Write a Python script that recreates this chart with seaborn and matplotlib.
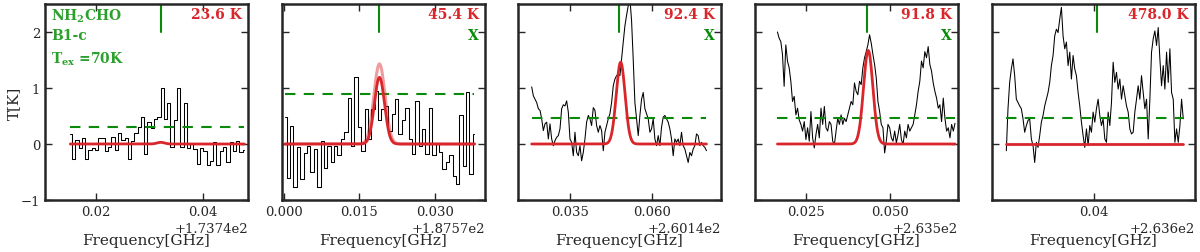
import numpy as np
import matplotlib
matplotlib.use('Agg')
import matplotlib.pyplot as plt
from matplotlib.ticker import FixedLocator
import seaborn as sns

sns.set_style('ticks')
plt.rcParams['font.family'] = ['DejaVu Serif']
plt.rcParams['mathtext.fontset'] = 'dejavuserif'

# frequency offsets of each panel [GHz]
offsets = [173.74, 187.57, 260.14, 263.5, 263.6]
temps = ['23.6 K', '45.4 K', '92.4 K', '91.8 K', '478.0 K']
marks = ['', 'X', 'X', 'X', '']
line_pos = [0.0321, 0.0190, 0.0500, 0.0430, 0.0406]
rms3 = [0.30, 0.89, 0.46, 0.46, 0.46]
x_ticks = [[0.02, 0.04], [0.0, 0.015, 0.030], [0.035, 0.060], [0.025, 0.050], [0.04]]
x_lims = [(0.0106, 0.0483), (-0.0003, 0.0399), (0.0192, 0.0809), (0.0097, 0.0703), (0.022, 0.058)]

# channel grid of each spectrum
chan_start = [0.0153, 0.0003, 0.02336, 0.0164, 0.02454]
chan_width = [0.00061, 0.00067, 0.000506, 0.0005, 0.000296]

# gaussian model (LTE fit) per panel
fit_amp = [0.03, 1.19, 1.46, 1.67, 0.0]
fit_center = [0.0321, 0.0190, 0.0504, 0.0435, 0.0406]
fit_sigma = [0.0007, 0.0010, 0.00135, 0.0014, 0.001]
# second (lighter) model shown in panel 2
alt_amp = 1.43
alt_sigma = 0.0011

spec1 = [0.17, -0.26, 0.07, -0.07, 0.10, -0.26, -0.10, -0.08, -0.10, 0.10,
         0.10, -0.12, -0.05, 0.12, -0.10, 0.19, 0.08, 0.10, -0.26, 0.06,
         0.20, 0.30, 0.48, -0.18, 0.40, 0.28, 0.45, 0.48, 1.00, 0.45,
         0.74, -0.06, 0.42, 1.00, -0.06, 0.74, -0.08, 0.00, -0.09, -0.36,
         -0.08, -0.12, -0.38, -0.30, 0.03, -0.38, -0.12, -0.05, -0.33, 0.03,
         -0.12, 0.05, -0.15, -0.10]

spec2 = [0.49, -0.60, 0.32, -0.77, -0.06, -0.62, -0.16, -0.03, -0.50, -0.09,
         -0.77, 0.06, -0.42, -0.03, -0.33, -0.03, -0.20, 0.09, 0.22, 0.83,
         -0.03, 1.19, 0.30, -0.12, 0.62, 0.09, 0.62, 0.95, 0.42, 0.62,
         0.68, 0.24, 0.54, 0.80, 0.18, 0.42, 0.65, 0.09, -0.18, 0.77,
         -0.03, 0.27, -0.18, 0.65, -0.20, 0.00, -0.15, -0.45, -0.33, -0.20,
         -0.57, -0.71, 0.51, -0.39, 0.92, -0.54, 0.18]

spec3 = [1.02, 0.86, 0.80, 0.74, 0.63, 0.60, 0.45, 0.24, 0.36, 0.39,
         0.09, 0.36, 0.09, -0.03, 0.06, 0.12, 0.15, 0.27, 0.63, 0.70,
         0.68, 0.77, 0.57, 0.09, 0.03, -0.21, 0.21, -0.15, -0.21, -0.03,
         -0.30, -0.15, 0.09, 0.39, 0.51, 0.45, 0.33, 0.65, 0.60, 0.33,
         0.21, 0.33, 0.24, -0.12, 0.21, 0.33, 0.45, 0.54, 0.74, 1.04,
         1.16, 1.22, 1.25, 1.22, 1.52, 1.82, 2.11, 2.30, 2.47, 2.60,
         2.20, 1.50, 0.74, 0.45, 0.15, 0.51, 0.80, 0.92, 0.63, 0.54,
         0.45, 0.21, 0.27, 0.45, 0.09, -0.03, 0.15, -0.03, 0.30, 0.48,
         0.51, 0.45, 0.39, 0.27, 0.09, -0.21, 0.09, 0.03, 0.09, -0.03,
         0.21, -0.03, -0.09, -0.21, -0.33, -0.15, -0.21, -0.09, -0.03, 0.18,
         0.15, -0.03, 0.03, -0.03, -0.06, -0.12]

spec4 = [2.00, 1.89, 1.83, 1.60, 1.03, 1.77, 1.48, 1.36, 1.12, 0.76,
         0.85, 0.52, 0.64, 0.43, 0.35, 0.23, 0.40, 0.08, 0.29, 0.05,
         0.58, 0.11, -0.07, 0.17, 0.35, 0.11, 0.64, 0.35, 0.67, 0.29,
         0.23, 0.40, 0.35, 0.05, -0.01, 0.23, 0.46, 0.35, 0.52, 0.35,
         0.46, 0.40, 0.52, 0.64, 0.76, 0.70, 1.09, 0.94, 0.88, 1.12,
         1.06, 1.36, 1.54, 1.65, 1.77, 1.95, 1.80, 1.60, 1.42, 1.18,
         0.76, 0.58, 0.35, 0.29, -0.16, 0.05, 0.35, 0.29, 0.11, 0.05,
         0.23, 0.02, 0.17, 0.35, 0.08, -0.01, 0.23, 0.11, 0.35, 0.23,
         0.29, 0.35, 0.52, 0.70, 0.94, 1.12, 1.48, 1.36, 1.65, 1.54,
         1.74, 1.42, 1.30, 1.09, 0.94, 0.82, 0.64, 0.70, 0.40, 0.82,
         0.46, 0.23, 0.29, 0.11, 0.35, 0.23, 0.37]

spec5 = [-0.12, 0.63, 1.10, 1.34, 1.52, 1.22, 0.80, 0.74, 0.68, 0.63,
         0.45, 0.21, 0.33, 0.42, 0.45, 0.09, -0.03, -0.33, 0.03, -0.06,
         0.15, 0.39, 0.51, 0.68, 0.80, 0.92, 1.10, 1.40, 1.58, 1.93,
         2.05, 1.99, 2.23, 2.44, 1.93, 1.70, 1.82, 1.40, 1.64, 1.16,
         1.58, 1.34, 1.22, 0.92, 0.68, 0.39, 0.15, -0.06, 0.27, -0.03,
         0.33, 0.21, 0.57, 0.39, 0.63, 0.80, 0.51, 0.33, 0.45, 0.09,
         0.03, 0.57, 0.33, 0.74, 1.46, 1.10, 1.28, 0.98, 1.16, 0.80,
         1.04, 0.86, 0.68, 0.57, 0.27, 0.18, 0.21, 0.57, 0.80, 1.04,
         0.80, 1.22, 0.92, 0.63, 0.80, 0.09, 0.80, 1.64, 1.88, 2.02,
         1.76, 2.08, 1.52, 1.04, 1.40, 0.98, 1.64, 1.10, 1.70, 0.92,
         0.80, 0.03, 0.27, 0.03, 0.33, 0.80, 0.45]

spectra = [spec1, spec2, spec3, spec4, spec5]
steps = [True, True, False, False, False]

red = '#d9262b'
green = '#0a8a0a'
lgreen = '#2ca02c'

fig = plt.figure(figsize=(12, 2.53), dpi=100)
lefts = [45, 282, 518, 755, 992]

for i in range(5):
    ax = fig.add_axes([lefts[i] / 1200, 52 / 253, 203 / 1200, 196 / 253])
    off = offsets[i]
    vals = np.array(spectra[i])
    freq = off + chan_start[i] + chan_width[i] * np.arange(len(vals))

    kw = dict(drawstyle='steps-mid') if steps[i] else {}
    sns.lineplot(x=freq, y=vals, ax=ax, color='k', linewidth=0.75,
                 estimator=None, sort=False, **kw)

    # 3 sigma level
    ax.plot([freq[0], freq[-1]], [rms3[i], rms3[i]], color=green, ls='--', lw=1.5, dashes=(5, 4))

    # model
    fx = np.linspace(freq[0], freq[-1], 600)
    if i == 1:
        alt = alt_amp * np.exp(-(fx - off - fit_center[i]) ** 2 / (2 * alt_sigma ** 2))
        sns.lineplot(x=fx, y=alt, ax=ax, color=red, alpha=0.45, linewidth=2.2, estimator=None, sort=False)
    model = fit_amp[i] * np.exp(-(fx - off - fit_center[i]) ** 2 / (2 * fit_sigma[i] ** 2))
    sns.lineplot(x=fx, y=model, ax=ax, color=red, linewidth=2.0, estimator=None, sort=False)

    # line position marker
    ax.plot([off + line_pos[i]] * 2, [2.0, 2.5], color=green, lw=1.5)

    ax.set_xlim(off + x_lims[i][0], off + x_lims[i][1])
    ax.set_ylim(-1, 2.5)
    ax.xaxis.set_major_locator(FixedLocator([off + t for t in x_ticks[i]]))
    ax.yaxis.set_major_locator(FixedLocator([-1, 0, 1, 2]))
    ax.ticklabel_format(axis='x', useOffset=off, style='plain')
    ax.tick_params(direction='in', top=True, right=True, length=5, width=1,
                   labelsize=9.5, pad=3.5)
    ax.xaxis.get_offset_text().set_fontsize(9.5)
    for s in ax.spines.values():
        s.set_linewidth(1.8)
        s.set_visible(True)
    ax.set_xlabel('Frequency[GHz]', fontsize=11, labelpad=11)
    if i == 0:
        ax.set_ylabel('T[K]', fontsize=11, labelpad=0)
    else:
        ax.set_ylabel('')
        ax.set_yticklabels([])

    ax.text(0.97, 0.985, temps[i], transform=ax.transAxes, ha='right', va='top',
            color=red, fontsize=10, fontweight='bold')
    if marks[i]:
        ax.text(0.97, 0.875, marks[i], transform=ax.transAxes, ha='right', va='top',
                color=green, fontsize=10, fontweight='bold')

ax0 = fig.axes[0]
ax0.text(0.03, 0.985, r'NH$_\mathbf{2}$CHO', transform=ax0.transAxes, ha='left', va='top',
         color=lgreen, fontsize=10, fontweight='bold')
ax0.text(0.03, 0.875, 'B1-c', transform=ax0.transAxes, ha='left', va='top',
         color=lgreen, fontsize=10, fontweight='bold')
ax0.text(0.03, 0.765, r'T$_\mathbf{ex}$ =70K', transform=ax0.transAxes, ha='left', va='top',
         color=lgreen, fontsize=10, fontweight='bold')

fig.savefig('out.png', dpi=100)
